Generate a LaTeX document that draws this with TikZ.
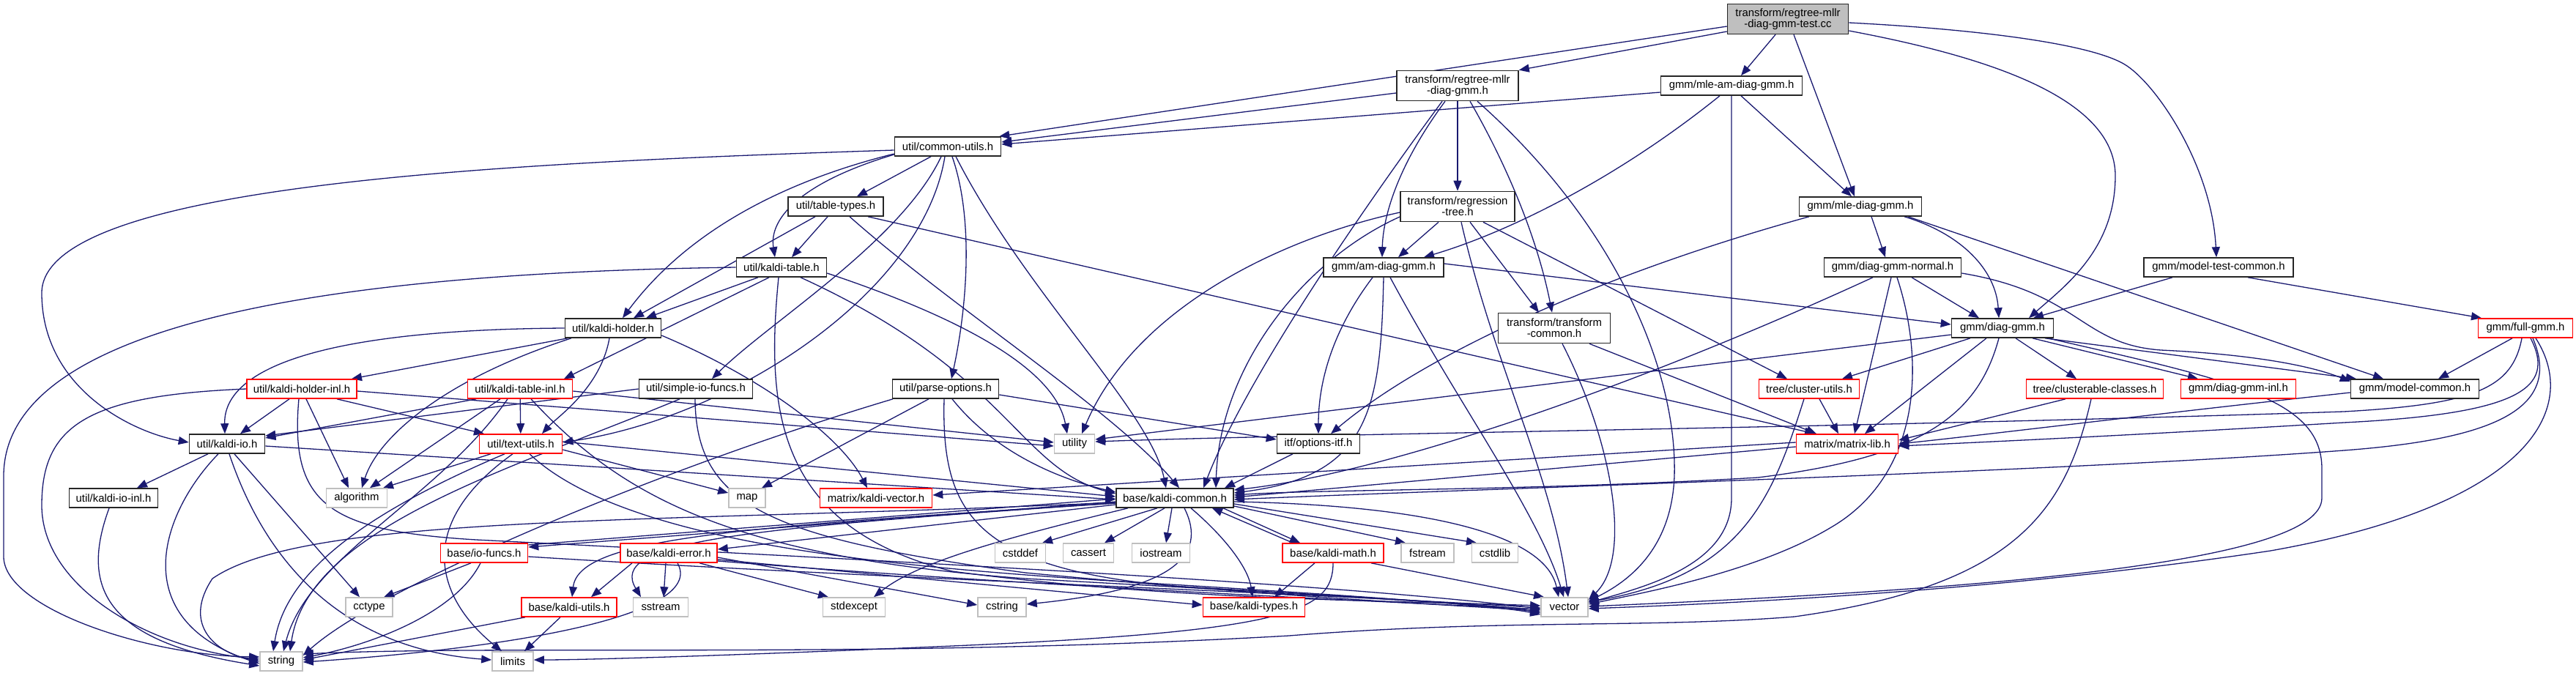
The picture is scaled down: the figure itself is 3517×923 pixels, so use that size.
\documentclass[tikz,border=0pt]{standalone}
\usepackage{fontspec}
\usetikzlibrary{arrows.meta}
\newfontfamily\nodefnt{Liberation Sans}
\definecolor{edgec}{HTML}{191970}
\definecolor{grayb}{HTML}{BFBFBF}
\pgfdeclarelayer{edgelayer}
\pgfsetlayers{edgelayer,main}
\tikzset{
 bx/.style={draw=black!85, line width=1.6pt, fill=white, inner sep=0pt, align=center,
   font={\nodefnt\fontsize{14.9}{15}\selectfont}},
 rb/.style={bx, draw=red},
 gb/.style={bx, draw=grayb},
 gbf/.style={bx, fill=grayb},
 e/.style={draw=edgec, line width=1.3pt, -{Triangle[length=14pt,width=11pt]}},
}
\newcommand\mkbox[6]{\node[#1, minimum width=#2pt, minimum height=#3pt] (#4) at (#5) {#6};}
\begin{document}
\begin{tikzpicture}[x=1pt,y=-1pt]
\useasboundingbox (0,0) rectangle (3517,923);
% nodes
\mkbox{gbf}{165}{41}{T}{2441,26}{transform/regtree-mllr\\-diag-gmm-test.cc}
\mkbox{bx}{166}{41}{RM}{1990,117}{transform/regtree-mllr\\-diag-gmm.h}
\mkbox{bx}{193}{26}{MAM}{2364,117}{gmm/mle-am-diag-gmm.h}
\mkbox{bx}{145}{26}{CU}{1294,200}{util/common-utils.h}
\mkbox{bx}{130}{26}{TT}{1141,282}{util/table-types.h}
\mkbox{bx}{156}{41}{RT}{1990,282}{transform/regression\\-tree.h}
\mkbox{bx}{167}{26}{MDG}{2540,282}{gmm/mle-diag-gmm.h}
\mkbox{bx}{123}{26}{KT}{1067,365}{util/kaldi-table.h}
\mkbox{bx}{164}{26}{AM}{1889,365}{gmm/am-diag-gmm.h}
\mkbox{bx}{187}{26}{DGN}{2584,365}{gmm/diag-gmm-normal.h}
\mkbox{bx}{204}{26}{MTC}{3029,365}{gmm/model-test-common.h}
\mkbox{bx}{131}{26}{KH}{837,448}{util/kaldi-holder.h}
\mkbox{bx}{153}{41}{TC}{2122,448}{transform/transform\\-common.h}
\mkbox{bx}{139}{26}{DG}{2734,448}{gmm/diag-gmm.h}
\mkbox{rb}{129}{26}{FG}{3448,448}{gmm/full-gmm.h}
\mkbox{rb}{150}{26}{KHI}{412,531}{util/kaldi-holder-inl.h}
\mkbox{rb}{143}{26}{KTI}{710,531}{util/kaldi-table-inl.h}
\mkbox{bx}{155}{26}{SIO}{950,531}{util/simple-io-funcs.h}
\mkbox{bx}{145}{26}{PO}{1291,531}{util/parse-options.h}
\mkbox{rb}{137}{26}{CLU}{2470,531}{tree/cluster-utils.h}
\mkbox{rb}{187}{26}{CC}{2860,531}{tree/clusterable-classes.h}
\mkbox{rb}{157}{26}{DGI}{3056,531}{gmm/diag-gmm-inl.h}
\mkbox{bx}{175}{26}{MC}{3297,531}{gmm/model-common.h}
\mkbox{bx}{103}{26}{KIO}{310,606}{util/kaldi-io.h}
\mkbox{rb}{113}{26}{TU}{711,606}{util/text-utils.h}
\mkbox{gb}{55}{26}{UT}{1467,606}{utility}
\mkbox{bx}{113}{26}{OI}{1800,606}{itf/options-itf.h}
\mkbox{rb}{139}{26}{ML}{2522,606}{matrix/matrix-lib.h}
\mkbox{bx}{121}{26}{KIOI}{155,680}{util/kaldi-io-inl.h}
\mkbox{gb}{83}{26}{ALG}{487,680}{algorithm}
\mkbox{gb}{50}{26}{MAP}{1020,680}{map}
\mkbox{rb}{153}{26}{KV}{1196,680}{matrix/kaldi-vector.h}
\mkbox{bx}{160}{26}{KC}{1604,680}{base/kaldi-common.h}
\mkbox{rb}{119}{26}{IOF}{661,755}{base/io-funcs.h}
\mkbox{rb}{132}{26}{KE}{913,755}{base/kaldi-error.h}
\mkbox{gb}{69}{26}{CSTDDEF}{1393,755}{cstddef}
\mkbox{gb}{69}{26}{CASSERT}{1486,755}{cassert}
\mkbox{gb}{79}{26}{IOSTREAM}{1585,755}{iostream}
\mkbox{rb}{138}{26}{KM}{1820,755}{base/kaldi-math.h}
\mkbox{gb}{72}{26}{FSTREAM}{1949,755}{fstream}
\mkbox{gb}{63}{26}{CSTDLIB}{2041,755}{cstdlib}
\mkbox{gb}{64}{26}{CCTYPE}{504,829}{cctype}
\mkbox{rb}{130}{26}{KU}{777,829}{base/kaldi-utils.h}
\mkbox{gb}{75}{26}{SSTREAM}{902,829}{sstream}
\mkbox{gb}{85}{26}{STDEXCEPT}{1166,829}{stdexcept}
\mkbox{gb}{66}{26}{CSTRING}{1368,829}{cstring}
\mkbox{rb}{139}{26}{KTY}{1712,829}{base/kaldi-types.h}
\mkbox{gb}{64}{26}{VEC}{2136,829}{vector}
\mkbox{gb}{58}{26}{STR}{384,903}{string}
\mkbox{gb}{56}{26}{LIM}{700,903}{limits}
\begin{pgfonlayer}{edgelayer}
% T
\draw[e] ([yshift=-10pt]T.west) -- ([xshift=-3pt]CU.north east);
\draw[e] ([yshift=-17pt]T.west) -- (RM.north east);
\draw[e] ([xshift=-17pt]T.south) -- ([xshift=13pt]MAM.north);
\draw[e] ([xshift=8pt]T.south) -- ([xshift=-8pt]MDG.north);
\draw[e] ([yshift=-5pt]T.east) .. controls (2700,40) and (2860,60) .. (2904,90) .. controls (2948,120) and (3020,230) .. ([xshift=-3pt]MTC.north);
\draw[e] ([yshift=-16pt]T.east) .. controls (2700,75) and (2888,130) .. (2888,240) .. controls (2888,340) and (2820,390) .. ([xshift=36pt]DG.north);
% RM
\draw[e] ([yshift=-10pt]RM.west) -- ([yshift=6pt]CU.east);
\draw[e] (RM) -- (RT);
\draw[e] ([xshift=-17pt]RM.south) .. controls (1905,230) and (1888,300) .. ([xshift=-2pt]AM.north);
\draw[e] ([xshift=-21pt]RM.south) .. controls (1850,300) and (1700,520) .. ([xshift=39pt]KC.north);
\draw[e] ([xshift=17pt]RM.south) .. controls (2060,230) and (2100,330) .. ([xshift=-3pt]TC.north);
\draw[e] ([xshift=27pt]RM.south) .. controls (2200,300) and (2290,500) .. (2286,650) .. controls (2282,760) and (2210,800) .. ([yshift=8pt]VEC.east);
% MAM
\draw[e] ([yshift=-9pt]MAM.west) -- ([yshift=3pt]CU.east);
\draw[e] ([xshift=-16pt]MAM.south) .. controls (2200,250) and (2050,320) .. ([xshift=55pt]AM.north);
\draw[e] (MAM.south) -- (2364,680) .. controls (2364,770) and (2250,800) .. ([yshift=6pt]VEC.east);
\draw[e] ([xshift=13pt]MAM.south) -- ([xshift=-12pt]MDG.north);
% CU
\draw[e] ([yshift=-5pt]CU.west) .. controls (700,222) and (57,250) .. (57,400) .. controls (57,530) and (180,590) .. ([yshift=2pt]KIO.west);
\draw[e] ([yshift=-10pt]CU.west) .. controls (1100,240) and (950,300) .. ([xshift=13pt]KH.north);
\draw[e] ([yshift=-11pt]CU.west) .. controls (1090,250) and (1050,300) .. ([xshift=-9pt]KT.north);
\draw[e] ([xshift=-23pt]CU.south) -- ([xshift=29pt]TT.north);
\draw[e] ([xshift=-9pt]CU.south) .. controls (1230,330) and (1050,440) .. ([xshift=22pt]SIO.north);
\draw[e] ([xshift=-4pt]CU.south) .. controls (1260,400) and (1000,570) .. ([yshift=2pt]TU.east);
\draw[e] ([xshift=6pt]CU.south) .. controls (1330,300) and (1320,420) .. ([xshift=8pt]PO.north);
\draw[e] ([xshift=11pt]CU.south) .. controls (1400,400) and (1570,560) .. ([xshift=-12pt]KC.north);
% TT
\draw[e] ([xshift=-28pt]TT.south) -- ([xshift=28pt]KH.north);
\draw[e] ([xshift=-11pt]TT.south) -- ([xshift=14pt]KT.north);
\draw[e] ([xshift=19pt]TT.south) .. controls (1300,420) and (1520,560) .. ([xshift=6pt]KC.north);
\draw[e] ([xshift=44pt]TT.south) -- ([xshift=-44pt]ML.north);
% KT
\draw[e] ([xshift=-32pt]KT.south) -- ([xshift=45pt]KH.north);
\draw[e] ([xshift=-17pt]KT.south) -- ([xshift=60pt]KTI.north);
\draw[e] (KT.west) .. controls (500,372) and (5,430) .. (5,650) -- (5,760) .. controls (5,830) and (200,895) .. ([yshift=6pt]STR.west);
\draw[e] ([yshift=-8pt]KT.east) .. controls (1300,430) and (1440,500) .. ([xshift=-10pt]UT.north);
\draw[e] ([xshift=26pt]KT.south) .. controls (1380,510) and (1390,640) .. ([yshift=6pt]KC.west);
\draw[e] ([xshift=-4pt]KT.south) .. controls (1045,560) and (1060,720) .. (1300,780) .. controls (1600,820) and (1900,820) .. ([yshift=2pt]VEC.west);
% KH
\draw[e] (KH.west) .. controls (450,450) and (305,500) .. ([xshift=-3pt]KIO.north);
\draw[e] ([xshift=-62pt]KH.south) -- ([xshift=68pt]KHI.north);
\draw[e] ([xshift=-57pt]KH.south) .. controls (600,520) and (515,600) .. ([xshift=7pt]ALG.north);
\draw[e] ([xshift=-5pt]KH.south) .. controls (820,530) and (760,570) .. ([xshift=29pt]TU.north);
\draw[e] ([yshift=-10pt]KH.east) .. controls (1050,520) and (1150,600) .. ([xshift=-12pt]KV.north);
% KHI
\draw[e] (KHI.west) .. controls (120,540) and (57,580) .. (57,690) .. controls (57,800) and (200,885) .. ([yshift=3pt]STR.west);
\draw[e] ([xshift=-17pt]KHI.south) -- ([xshift=18pt]KIO.north);
\draw[e] ([xshift=-4pt]KHI.south) .. controls (395,690) and (450,725) .. (650,737) .. controls (1200,765) and (1800,795) .. ([yshift=-2pt]VEC.west);
\draw[e] ([xshift=6pt]KHI.south) -- ([xshift=-11pt]ALG.north);
\draw[e] ([xshift=48pt]KHI.south) -- ([xshift=-50pt]TU.north);
\draw[e] ([yshift=-3pt]KHI.east) -- ([yshift=-3pt]UT.west);
% KTI
\draw[e] ([xshift=-60pt]KTI.south) -- ([yshift=8pt]KIO.east);
\draw[e] ([xshift=-27pt]KTI.south) -- ([xshift=18pt]ALG.north);
\draw[e] ([xshift=-17pt]KTI.south) .. controls (600,680) and (420,760) .. ([xshift=3pt]STR.north);
\draw[e] (KTI) -- (TU);
\draw[e] ([xshift=15pt]KTI.south) .. controls (850,680) and (1000,760) .. (1400,790) .. controls (1800,812) and (2000,824) .. ([yshift=-4pt]VEC.west);
\draw[e] ([yshift=-3pt]KTI.east) -- ([yshift=2pt]UT.west);
% SIO
\draw[e] (SIO.west) -- ([yshift=11pt]KIO.east);
\draw[e] ([xshift=-22pt]SIO.south) .. controls (700,640) and (420,720) .. ([xshift=12pt]STR.north);
\draw[e] ([xshift=-1pt]SIO.south) .. controls (950,690) and (1050,735) .. (1400,782) .. controls (1800,820) and (2000,826) .. ([yshift=-6pt]VEC.west);
% PO
\draw[e] ([xshift=-72pt]PO.south) .. controls (900,640) and (520,800) .. ([yshift=8pt]STR.east);
\draw[e] ([xshift=-23pt]PO.south) -- ([xshift=20pt]MAP.north);
\draw[e] ([xshift=-2pt]PO.south) .. controls (1285,700) and (1330,775) .. (1600,800) .. controls (1900,818) and (2050,826) .. ([yshift=-8pt]VEC.west);
\draw[e] ([xshift=9pt]PO.south) .. controls (1360,620) and (1450,655) .. ([yshift=8pt]KC.west);
\draw[e] ([yshift=-8pt]PO.east) -- ([yshift=6pt]OI.west);
% KIO
\draw[e] ([xshift=-26pt]KIO.south) -- ([xshift=32pt]KIOI.north);
\draw[e] ([xshift=-12pt]KIO.south) .. controls (220,700) and (170,845) .. ([yshift=-3pt]STR.west);
\draw[e] ([xshift=3pt]KIO.south) .. controls (360,760) and (460,885) .. ([yshift=2pt]LIM.west);
\draw[e] ([xshift=10pt]KIO.south) -- ([xshift=-13pt]CCTYPE.north);
\draw[e] ([yshift=-3pt]KIO.east) -- ([yshift=-2pt]KC.west);
\draw[e] ([xshift=-6pt]KIOI.south) .. controls (110,800) and (140,875) .. ([yshift=-6pt]STR.west);
% TU
\draw[e] ([xshift=-41pt]TU.south) -- ([xshift=36pt]ALG.north);
\draw[e] ([xshift=-22pt]TU.south) .. controls (500,700) and (390,780) .. ([xshift=-11pt]STR.north);
\draw[e] ([xshift=-11pt]TU.south) .. controls (560,720) and (600,820) .. ([xshift=-15pt]LIM.north);
\draw[e] ([yshift=-8pt]TU.east) -- ([yshift=7pt]MAP.west);
\draw[e] ([xshift=12pt]TU.south) .. controls (850,740) and (1200,772) .. (1500,792) .. controls (1900,816) and (2050,828) .. ([yshift=-10pt]VEC.west);
\draw[e] ([yshift=3pt]TU.east) -- ([yshift=2pt]KC.west);
% KC
\draw[e] ([yshift=-5pt]KC.west) -- ([yshift=8pt]IOF.east);
\draw[e] ([yshift=11pt]IOF.east) -- ([yshift=-1pt]KC.west);
\draw[e] ([yshift=-9pt]KC.west) -- ([yshift=5pt]KE.east);
\draw[e] ([yshift=-7pt]KC.west) .. controls (1000,720) and (790,735) .. ([xshift=4pt]KU.north);
\draw[e] ([yshift=-7pt]KC.west) .. controls (1000,722) and (830,740) .. ([xshift=-27pt]SSTREAM.north);
\draw[e] ([yshift=-6pt]KC.west) .. controls (900,715) and (420,700) .. (290,790) .. controls (250,850) and (290,890) .. (STR.west);
\draw[e] ([xshift=-24pt]KC.south) -- ([xshift=30pt]CSTDDEF.north);
\draw[e] ([xshift=-14pt]KC.south) -- ([xshift=22pt]CASSERT.north);
\draw[e] ([xshift=-4pt]KC.south) -- ([xshift=7pt]IOSTREAM.north);
\draw[e] ([xshift=-64pt]KC.south) .. controls (1350,740) and (1250,770) .. ([xshift=27pt]STDEXCEPT.north);
\draw[e] ([xshift=13pt]KC.south) .. controls (1650,760) and (1600,805) .. ([yshift=4pt]CSTRING.east);
\draw[e] ([xshift=22pt]KC.south) .. controls (1680,740) and (1705,780) .. ([xshift=-2pt]KTY.north);
\draw[e] ([xshift=66pt]KC.south) -- ([xshift=-45pt]KM.north);
\draw[e] ([xshift=-55pt]KM.north) -- ([xshift=51pt]KC.south);
\draw[e] ([yshift=-11pt]KC.east) -- ([xshift=-30pt]FSTREAM.north);
\draw[e] ([yshift=-8pt]KC.east) -- ([xshift=-25pt]CSTDLIB.north);
\draw[e] ([yshift=-5pt]KC.east) .. controls (1950,690) and (2110,730) .. ([xshift=-8pt]VEC.north);
% IOF
\draw[e] ([xshift=-18pt]IOF.south) -- ([xshift=20pt]CCTYPE.north);
\draw[e] ([xshift=-5pt]IOF.south) .. controls (620,840) and (500,882) .. ([yshift=5pt]STR.east);
\draw[e] ([yshift=-5pt]IOF.east) .. controls (1200,790) and (1800,810) .. ([yshift=-1pt]VEC.west);
% KE
\draw[e] ([xshift=-4pt]KE.south) -- ([xshift=4pt]SSTREAM.north);
\draw[e] ([xshift=12pt]KE.south) .. controls (965,840) and (700,885) .. ([yshift=-1pt]STR.east);
\draw[e] ([xshift=42pt]KE.south) -- ([xshift=-35pt]STDEXCEPT.north);
\draw[e] ([yshift=-6pt]KE.east) -- ([yshift=3pt]CSTRING.west);
\draw[e] ([yshift=-9pt]KE.east) -- ([yshift=3pt]KTY.west);
\draw[e] ([xshift=-50pt]KE.south) -- ([xshift=30pt]KU.north);
\draw[e] ([yshift=-11pt]KE.east) .. controls (1400,800) and (1900,822) .. ([yshift=-3pt]VEC.west);
% KU
\draw[e] ([xshift=-60pt]KU.south) -- ([yshift=2pt]STR.east);
\draw[e] ([xshift=-12pt]KU.south) -- ([xshift=16pt]LIM.north);
% KM
\draw[e] ([xshift=-25pt]KM.south) -- ([xshift=28pt]KTY.north);
\draw[e] ([xshift=52pt]KM.south) -- ([xshift=-28pt]VEC.north);
\draw[e] (KM.south) .. controls (1820,835) and (1760,862) .. (1300,882) .. controls (1000,895) and (800,901) .. ([yshift=2pt]LIM.east);
% CC
\draw[e] ([xshift=-5pt]CC.south) .. controls (2820,700) and (2750,800) .. (2450,842) .. controls (2250,858) and (2050,845) .. (1760,868) .. controls (1200,900) and (700,880) .. ([yshift=10pt]STR.east);
\draw[e] ([xshift=-40pt]CC.south) -- ([yshift=5pt]ML.east);
% MC
\draw[e] ([yshift=-5pt]MC.west) .. controls (2900,570) and (2700,595) .. (ML.east);
% FG
\draw[e] ([xshift=-18pt]FG.south) -- ([xshift=32pt]MC.north);
\draw[e] ([xshift=-5pt]FG.south) .. controls (3430,530) and (3380,552) .. (3200,562) .. controls (2500,585) and (1800,592) .. ([yshift=3pt]UT.east);
\draw[e] ([xshift=7pt]FG.south) .. controls (3490,530) and (3440,565) .. (3200,577) .. controls (2900,595) and (2700,604) .. ([yshift=-3pt]ML.east);
\draw[e] ([xshift=14pt]FG.south) .. controls (3525,560) and (3450,690) .. (3100,752) .. controls (2700,812) and (2300,826) .. ([yshift=-2pt]VEC.east);
\draw[e] ([xshift=10pt]FG.south) .. controls (3500,560) and (3400,600) .. (3200,615) .. controls (2800,645) and (2000,668) .. ([yshift=-2pt]KC.east);
% DG
\draw[e] ([yshift=-9pt]DG.west) -- ([yshift=6pt]UT.east);
\draw[e] ([xshift=-44pt]DG.south) -- ([xshift=45pt]CLU.north);
\draw[e] ([xshift=-22pt]DG.south) -- ([xshift=24pt]ML.north);
\draw[e] ([xshift=-5pt]DG.south) .. controls (2700,570) and (2620,625) .. (2400,652) .. controls (2100,670) and (1800,668) .. ([yshift=4pt]KC.east);
\draw[e] ([xshift=18pt]DG.south) -- ([xshift=-25pt]CC.north);
\draw[e] ([xshift=41pt]DG.south) -- ([xshift=-55pt]DGI.north);
\draw[e] ([xshift=58pt]DG.south) -- ([xshift=-80pt]MC.north);
\draw[e] ([xshift=62pt]DG.south) .. controls (3050,520) and (3170,545) .. (3170,640) -- (3170,680) .. controls (3170,770) and (2700,805) .. ([yshift=1pt]VEC.east);
% DGN
\draw[e] ([xshift=-27pt]DGN.south) .. controls (2250,520) and (1900,645) .. ([yshift=11pt]KC.east);
\draw[e] ([xshift=-2pt]DGN.south) -- ([xshift=10pt]ML.north);
\draw[e] ([xshift=6pt]DGN.south) .. controls (2630,500) and (2620,650) .. (2500,720) .. controls (2400,780) and (2250,808) .. ([yshift=4pt]VEC.east);
\draw[e] ([xshift=26pt]DGN.south) -- ([xshift=-32pt]DG.north);
\draw[e] ([yshift=-8pt]DGN.east) .. controls (2840,400) and (2840,470) .. (2950,478) .. controls (3100,485) and (3170,505) .. ([yshift=10pt]MC.west);
% MDG
\draw[e] ([xshift=60pt]MDG.south) .. controls (2680,320) and (2725,370) .. ([xshift=-5pt]DG.north);
\draw[e] ([xshift=15pt]MDG.south) -- ([xshift=-10pt]DGN.north);
\draw[e] ([xshift=65pt]MDG.south) -- ([xshift=-43pt]MC.north);
\draw[e] ([xshift=-70pt]MDG.south) .. controls (2200,370) and (1950,480) .. ([xshift=17pt]OI.north);
% AM
\draw[e] ([xshift=-15pt]AM.south) .. controls (1820,450) and (1800,520) .. (OI.north);
\draw[e] (AM.south) .. controls (1885,560) and (1870,650) .. ([yshift=7pt]KC.east);
\draw[e] ([xshift=9pt]AM.south) .. controls (1990,550) and (2100,700) .. ([xshift=-1pt]VEC.north);
\draw[e] ([yshift=5pt]AM.east) -- ([yshift=5pt]DG.west);
% RT
\draw[e] ([xshift=-26pt]RT.south) -- ([xshift=20pt]AM.north);
\draw[e] ([xshift=17pt]RT.south) -- ([xshift=-21pt]TC.north);
\draw[e] ([xshift=35pt]RT.south) -- ([xshift=-30pt]CLU.north);
\draw[e] ([xshift=5pt]RT.south) .. controls (2040,500) and (2120,650) .. ([xshift=5pt]VEC.north);
\draw[e] ([yshift=-8pt]RT.west) .. controls (1750,325) and (1550,420) .. ([xshift=10pt]UT.north);
\draw[e] ([yshift=-14pt]RT.west) .. controls (1780,355) and (1665,500) .. ([xshift=56pt]KC.north);
% TC
\draw[e] ([xshift=11pt]TC.south) .. controls (2200,600) and (2230,760) .. ([yshift=10pt]VEC.east);
\draw[e] ([xshift=48pt]TC.south) -- ([xshift=-42pt]ML.north);
% CLU
\draw[e] ([xshift=14pt]CLU.south) -- ([xshift=-12pt]ML.north);
\draw[e] ([xshift=-7pt]CLU.south) .. controls (2420,680) and (2380,785) .. ([yshift=7pt]VEC.east);
% ML
\draw[e] ([yshift=2pt]ML.west) -- ([yshift=4pt]KV.east);
\draw[e] ([yshift=-4pt]ML.west) -- ([yshift=1pt]KC.east);
% OI
\draw[e] ([xshift=-35pt]OI.south) -- ([xshift=68pt]KC.north);
% MTC
\draw[e] ([xshift=-63pt]MTC.south) -- ([xshift=42pt]DG.north);
\draw[e] ([xshift=40pt]MTC.south) -- ([xshift=-60pt]FG.north);
\end{pgfonlayer}
\end{tikzpicture}
\end{document}
